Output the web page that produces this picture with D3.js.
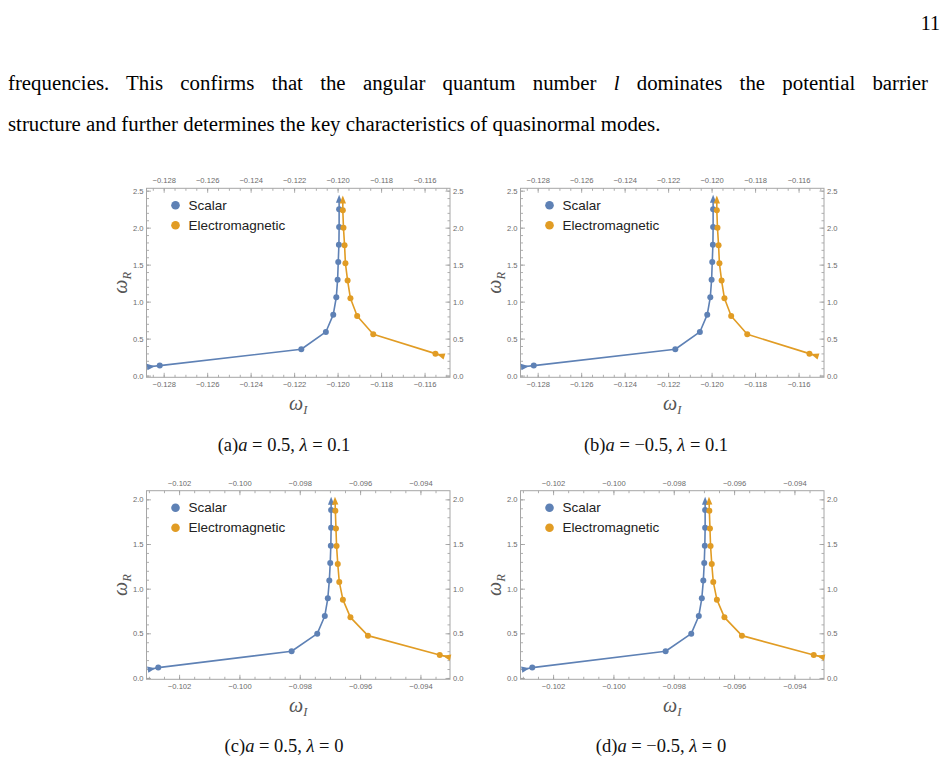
<!DOCTYPE html>
<html>
<head>
<meta charset="utf-8">
<script src="https://cdn.jsdelivr.net/npm/d3@7"></script>
<style>
  body { margin: 0; background: #fff; }
  svg { display: block; }
</style>
</head>
<body>
<svg id="chart"></svg>
<script>
// ---- data (omega_I, omega_R) ----
// panel (a): a = 0.5, lambda = 0.1
const scalarWI_a = [-0.12858, -0.12818, -0.12167, -0.12054, -0.12020, -0.12006, -0.12000, -0.11997, -0.11994, -0.11993, -0.11993, -0.11993];
const scalarWR_a = [0.122, 0.135, 0.356, 0.590, 0.824, 1.059, 1.297, 1.536, 1.770, 2.009, 2.248, 2.390];
const emWI_a = [-0.11526, -0.11550, -0.11836, -0.11910, -0.11941, -0.11954, -0.11964, -0.11968, -0.11973, -0.11976, -0.11976];
const emWR_a = [0.275, 0.297, 0.559, 0.806, 1.045, 1.284, 1.518, 1.761, 2.000, 2.234, 2.380];

// panel (b): a = -0.5, lambda = 0.1
const scalarWI_b = [-0.12858, -0.12818, -0.12167, -0.12054, -0.12020, -0.12006, -0.12000, -0.11997, -0.11994, -0.11993, -0.11993, -0.11993];
const scalarWR_b = [0.122, 0.135, 0.356, 0.590, 0.824, 1.059, 1.297, 1.536, 1.770, 2.009, 2.248, 2.390];
const emWI_b = [-0.11526, -0.11550, -0.11836, -0.11910, -0.11941, -0.11954, -0.11964, -0.11968, -0.11973, -0.11976, -0.11976];
const emWR_b = [0.275, 0.297, 0.559, 0.806, 1.045, 1.284, 1.518, 1.761, 2.000, 2.234, 2.380];

// panel (c): a = 0.5, lambda = 0
const scalarWI_c = [-0.10291, -0.10269, -0.09827, -0.09742, -0.09717, -0.09707, -0.09702, -0.09699, -0.09697, -0.09696, -0.09696, -0.09696];
const scalarWR_c = [0.101, 0.116, 0.299, 0.496, 0.694, 0.892, 1.090, 1.287, 1.481, 1.683, 1.881, 1.985];
const emWI_c = [-0.09313, -0.09336, -0.09574, -0.09632, -0.09657, -0.09669, -0.09674, -0.09678, -0.09680, -0.09682, -0.09683];
const emWR_c = [0.239, 0.257, 0.474, 0.679, 0.877, 1.075, 1.276, 1.478, 1.675, 1.873, 1.985];

// panel (d): a = -0.5, lambda = 0
const scalarWI_d = [-0.10291, -0.10269, -0.09827, -0.09742, -0.09717, -0.09707, -0.09702, -0.09699, -0.09697, -0.09696, -0.09696, -0.09696];
const scalarWR_d = [0.101, 0.116, 0.299, 0.496, 0.694, 0.892, 1.090, 1.287, 1.481, 1.683, 1.881, 1.985];
const emWI_d = [-0.09313, -0.09336, -0.09574, -0.09632, -0.09657, -0.09669, -0.09674, -0.09678, -0.09680, -0.09682, -0.09683];
const emWR_d = [0.239, 0.257, 0.474, 0.679, 0.877, 1.075, 1.276, 1.478, 1.675, 1.873, 1.985];

// tick labels
const xTicksTop = [-0.128, -0.126, -0.124, -0.122, -0.120, -0.118, -0.116];
const yTicksTop = [0, 0.5, 1.0, 1.5, 2.0, 2.5];
const xTicksBottom = [-0.102, -0.100, -0.098, -0.096, -0.094];
const yTicksBottom = [0, 0.5, 1.0, 1.5, 2.0];

const seriesNames = ["Scalar", "Electromagnetic"];
const seriesColors = ["#5E81B5", "#E19C24"];

const captions = [
  ["(a)", "0.5", "0.1"],
  ["(b)", "\u22120.5", "0.1"],
  ["(c)", "0.5", "0"],
  ["(d)", "\u22120.5", "0"]
];

// ---- layout ----
const width = 945, height = 764;
const svg = d3.select("#chart").attr("width", width).attr("height", height);
svg.append("rect").attr("width", width).attr("height", height).attr("fill", "#fff");

const panels = [
  { wi: [scalarWI_a, emWI_a], wr: [scalarWR_a, emWR_a], xt: xTicksTop, yt: yTicksTop,
    xd: [-0.12879, -0.11483], yd: [-0.023, 2.532], f: [146.5, 450, 188.3, 377.3], cap: [284, 451] },
  { wi: [scalarWI_b, emWI_b], wr: [scalarWR_b, emWR_b], xt: xTicksTop, yt: yTicksTop,
    xd: [-0.12879, -0.11483], yd: [-0.023, 2.532], f: [520.5, 824, 188.3, 377.3], cap: [656, 451] },
  { wi: [scalarWI_c, emWI_c], wr: [scalarWR_c, emWR_c], xt: xTicksBottom, yt: yTicksBottom,
    xd: [-0.10308, -0.09302], yd: [-0.015, 2.097], f: [146.5, 450, 490.7, 679.3], cap: [284, 752] },
  { wi: [scalarWI_d, emWI_d], wr: [scalarWR_d, emWR_d], xt: xTicksBottom, yt: yTicksBottom,
    xd: [-0.10308, -0.09302], yd: [-0.015, 2.097], f: [520.5, 824, 490.7, 679.3], cap: [661, 752] }
];

// page text
const serif = "'Liberation Serif', 'DejaVu Serif', serif";
svg.append("text").attr("x", 940).attr("y", 30).attr("text-anchor", "end")
  .attr("font-family", serif).attr("font-size", 20).text("11");

// second line sets the font size (its natural width is 653px), first line is justified by word spacing
const line2 = svg.append("text").attr("x", 8).attr("y", 131)
  .attr("font-family", serif).attr("font-size", 20)
  .text("structure and further determines the key characteristics of quasinormal modes.");
const fs = 20 * 653 / line2.node().getComputedTextLength();
line2.attr("font-size", fs);

const line1 = svg.append("text").attr("x", 8).attr("y", 90)
  .attr("font-family", serif).attr("font-size", fs);
line1.append("tspan").text("frequencies.  This confirms that the angular quantum number ");
line1.append("tspan").attr("font-style", "italic").text("l");
line1.append("tspan").text(" dominates the potential barrier");
const w1 = line1.node().getComputedTextLength();
line1.attr("word-spacing", Math.max(0, (932 - w1) / 13));

const fmtX = d3.format(".3f");
const fmtY = d3.format(".1f");

function minorTicks(domain, step) {
  const out = [];
  const i0 = Math.ceil(domain[0] / step - 1e-9), i1 = Math.floor(domain[1] / step + 1e-9);
  for (let i = i0; i <= i1; i++) out.push(+(i * step).toFixed(6));
  return out;
}

function styleAxis(g) {
  g.select(".domain").remove();
  g.selectAll(".tick line").attr("stroke", "#9a9a9a").attr("stroke-width", 0.8);
  g.selectAll(".tick text").attr("fill", "#6b6b6b")
    .attr("font-family", "'Liberation Sans', Arial, sans-serif").attr("font-size", 7.6);
}

panels.forEach((p, k) => {
  const [x0, x1, y0, y1] = p.f;
  const x = d3.scaleLinear().domain(p.xd).range([x0, x1]);
  const y = d3.scaleLinear().domain(p.yd).range([y1, y0]);
  const g = svg.append("g");

  const xMinor = minorTicks(p.xd, 0.0005);
  const yMinor = minorTicks(p.yd, 0.1);

  // minor ticks
  [[d3.axisBottom, y1], [d3.axisTop, y0]].forEach(([ax, ty]) => {
    g.append("g").attr("transform", `translate(0,${ty})`)
      .call(ax(x).tickValues(xMinor).tickSize(-2.5).tickFormat(""))
      .call(styleAxis);
  });
  [[d3.axisLeft, x0], [d3.axisRight, x1]].forEach(([ax, tx]) => {
    g.append("g").attr("transform", `translate(${tx},0)`)
      .call(ax(y).tickValues(yMinor).tickSize(-2.5).tickFormat(""))
      .call(styleAxis);
  });

  // major ticks with labels
  g.append("g").attr("transform", `translate(0,${y1})`)
    .call(d3.axisBottom(x).tickValues(p.xt).tickSize(-4.5).tickPadding(4.5).tickFormat(fmtX))
    .call(styleAxis);
  g.append("g").attr("transform", `translate(0,${y0})`)
    .call(d3.axisTop(x).tickValues(p.xt).tickSize(-4.5).tickPadding(5).tickFormat(fmtX))
    .call(styleAxis);
  g.append("g").attr("transform", `translate(${x0},0)`)
    .call(d3.axisLeft(y).tickValues(p.yt).tickSize(-4.5).tickPadding(3).tickFormat(fmtY))
    .call(styleAxis);
  g.append("g").attr("transform", `translate(${x1},0)`)
    .call(d3.axisRight(y).tickValues(p.yt).tickSize(-4.5).tickPadding(3).tickFormat(fmtY))
    .call(styleAxis);

  // frame
  g.append("rect").attr("x", x0).attr("y", y0).attr("width", x1 - x0).attr("height", y1 - y0)
    .attr("fill", "none").attr("stroke", "#a6a6a6").attr("stroke-width", 1);

  // series
  const line = d3.line().x(d => x(d[0])).y(d => y(d[1]));
  p.wi.forEach((wiArr, s) => {
    const pts = wiArr.map((v, i) => [v, p.wr[s][i]]);
    const col = seriesColors[s];
    g.append("path").datum(pts).attr("d", line)
      .attr("fill", "none").attr("stroke", col).attr("stroke-width", 1.6)
      .attr("stroke-linejoin", "round");
    g.selectAll(null).data(pts.slice(1, -1)).enter().append("circle")
      .attr("cx", d => x(d[0])).attr("cy", d => y(d[1])).attr("r", 3)
      .attr("fill", col);
    // arrowheads at both ends, pointing along the curve
    const n = pts.length;
    [[pts[0], pts[1], pts[0]], [pts[n - 2], pts[n - 1], pts[n - 1]]].forEach(([a, b, c]) => {
      const ax = x(a[0]), ay = y(a[1]), bx = x(b[0]), by = y(b[1]);
      const len = Math.hypot(bx - ax, by - ay) || 1;
      const ux = (bx - ax) / len, uy = (by - ay) / len;
      const cx = x(c[0]), cy = y(c[1]);
      const L = 8, W = 3.2;
      const tip = [cx + ux * L / 2, cy + uy * L / 2];
      const bc = [cx - ux * L / 2, cy - uy * L / 2];
      const tri = [tip, [bc[0] - uy * W, bc[1] + ux * W], [bc[0] + uy * W, bc[1] - ux * W]];
      g.append("path").attr("d", "M" + tri.map(q => q.join(",")).join("L") + "Z").attr("fill", col);
    });
  });

  // legend
  seriesNames.forEach((name, s) => {
    const ly = y0 + 17 + s * 20;
    g.append("circle").attr("cx", x0 + 29).attr("cy", ly).attr("r", 4.3).attr("fill", seriesColors[s]);
    g.append("text").attr("x", x0 + 42).attr("y", ly).attr("dy", "0.35em")
      .attr("font-family", "'Liberation Sans', Arial, sans-serif").attr("font-size", 13.5)
      .attr("fill", "#222").text(name);
  });

  // axis labels
  const cxm = (x0 + x1) / 2, cym = (y0 + y1) / 2;
  const xl = g.append("text").attr("x", cxm).attr("y", y1 + 33).attr("text-anchor", "middle")
    .attr("font-family", serif).attr("fill", "#555");
  xl.append("tspan").attr("font-style", "italic").attr("font-size", 20).text("\u03c9");
  xl.append("tspan").attr("font-style", "italic").attr("font-size", 12.5).attr("dy", 4).text("I");

  const yl = g.append("text").attr("transform", `translate(${x0 - 20},${cym}) rotate(-90)`)
    .attr("text-anchor", "middle").attr("font-family", serif).attr("fill", "#555");
  yl.append("tspan").attr("font-style", "italic").attr("font-size", 20).text("\u03c9");
  yl.append("tspan").attr("font-style", "italic").attr("font-size", 12.5).attr("dy", 4).text("R");

  // caption
  const c = captions[k];
  const ct = svg.append("text").attr("x", p.cap[0]).attr("y", p.cap[1]).attr("text-anchor", "middle")
    .attr("font-family", serif).attr("font-size", 18.5).attr("fill", "#111");
  ct.append("tspan").text(c[0]);
  ct.append("tspan").attr("font-style", "italic").text("a");
  ct.append("tspan").text(" = " + c[1] + ", ");
  ct.append("tspan").attr("font-style", "italic").text("\u03bb");
  ct.append("tspan").text(" = " + c[2]);
});
</script>
</body>
</html>
